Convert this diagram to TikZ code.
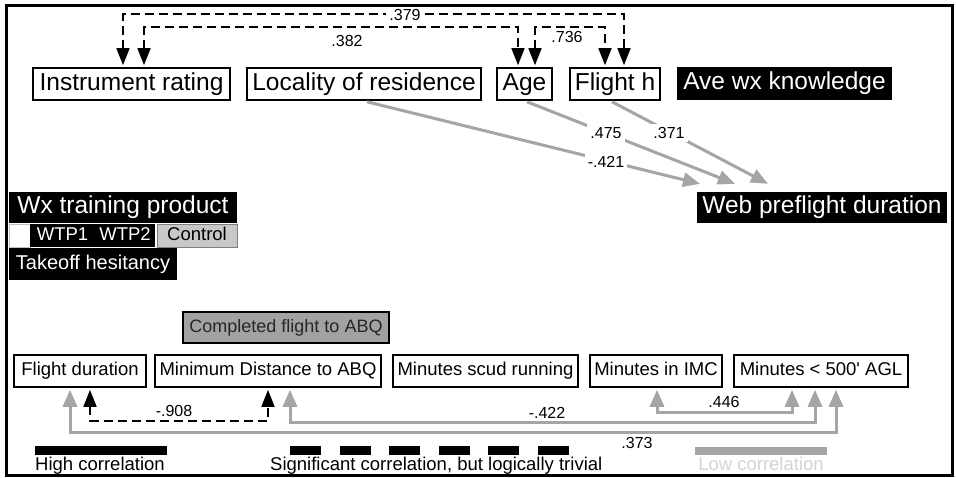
\documentclass[tikz,border=0pt]{standalone}
\usepackage{fontspec}
\setmainfont{Liberation Sans}[Ligatures=TeXOff]
\usetikzlibrary{arrows.meta}
\definecolor{arrgray}{RGB}{165,165,165}
\definecolor{ctrlgray}{RGB}{200,200,200}
\definecolor{cfgray}{RGB}{162,162,162}
\definecolor{lowtxt}{RGB}{212,212,212}
\begin{document}
\begin{tikzpicture}[x=1pt,y=-1pt,
  fbig/.style={font=\fontsize{24.5}{26}\selectfont, text height=17.8pt, text depth=5pt},
  fmid/.style={font=\fontsize{18.5}{20}\selectfont, text height=13.4pt, text depth=3.8pt},
  fnum/.style={font=\fontsize{16}{18}\selectfont},
  wbox/.style={draw=black, line width=1.6pt, fill=white, inner sep=0pt},
  bbox/.style={fill=black, text=white, inner sep=0pt},
  dl/.style={draw=black, line width=1.6pt, dash pattern=on 9pt off 5pt,
     {Triangle[length=17pt,width=13pt]}-{Triangle[length=17pt,width=13pt]}},
  gl/.style={draw=arrgray, line width=3pt,
     {Triangle[length=17pt,width=14pt]}-{Triangle[length=17pt,width=14pt]}},
  ga/.style={draw=arrgray, line width=3pt, -{Triangle[length=17pt,width=14pt]}},
  lbl/.style={fnum, inner sep=1pt},
]
\useasboundingbox (0,0) rectangle (956,478);
\fill[white] (0,0) rectangle (956,478);

% top row
\node[wbox,fbig,minimum width=197pt,minimum height=32pt] (ir) at (131.5,84) {Instrument rating};
\node[wbox,fbig,minimum width=234pt,minimum height=32pt] (lr) at (364,84) {Locality of residence};
\node[wbox,fbig,minimum width=55pt,minimum height=32pt] (ag) at (524.5,84) {Age};
\node[wbox,fbig,minimum width=90pt,minimum height=32pt] (fh) at (615,84) {Flight h};
\node[bbox,fbig,minimum width=215pt,minimum height=33pt] (aw) at (784.5,83.5) {Ave wx knowledge};

\node[bbox,fbig,minimum width=250pt,minimum height=31pt] (wp) at (822,207.5) {Web preflight duration};

% left block
\node[bbox,fbig,minimum width=228pt,minimum height=31pt] (wx) at (123,207.5) {Wx training product};
\node[draw=lightgray, line width=0.6pt, fill=white, minimum width=21pt, minimum height=23pt, inner sep=0pt] (w0) at (19.5,235.5) {};
\node[bbox,fmid,minimum width=65pt,minimum height=23pt] (w1) at (62.5,235.5) {WTP1};
\node[bbox,fmid,minimum width=60pt,minimum height=23pt] (w2) at (125,235.5) {WTP2};
\node[fill=ctrlgray, draw=gray, line width=0.6pt, fmid, minimum width=80pt, minimum height=23pt, inner sep=0pt] (wc) at (197,235.5) {Control};
\node[bbox,font=\fontsize{20}{22}\selectfont,text height=14.5pt,text depth=4.2pt,minimum width=168pt,minimum height=32pt] (th) at (93,264) {Takeoff hesitancy};

% bottom
\node[draw=black, line width=1.4pt, fill=cfgray, text=black!85, font=\fontsize{18}{20}\selectfont, text height=13pt, text depth=3.8pt, minimum width=206pt, minimum height=31pt, inner sep=0pt] (cf) at (286,327.5) {Completed flight to ABQ};
\node[wbox,fmid,minimum width=132pt,minimum height=32pt] (fd) at (80,371) {Flight duration};
\node[wbox,fmid,minimum width=226pt,minimum height=32pt] (md) at (268,371) {Minimum Distance to ABQ};
\node[wbox,fmid,minimum width=185pt,minimum height=32pt] (sr) at (485.5,371) {Minutes scud running};
\node[wbox,fmid,minimum width=132pt,minimum height=32pt] (imc) at (656,371) {Minutes in IMC};
\node[wbox,fmid,minimum width=174pt,minimum height=32pt] (agl) at (821,371) {Minutes < 500' AGL};

% top dashed correlations
\draw[dl] ([xshift=-8.5pt,yshift=2pt]ir.north) -- ++(0,-51) -| ([xshift=9pt,yshift=2pt]fh.north);
\draw[dl] ([xshift=12.5pt,yshift=2pt]ir.north) -- ++(0,-38) -| ([xshift=-6.5pt,yshift=2pt]ag.north);
\draw[dl] ([xshift=10.5pt,yshift=2pt]ag.north) -- ++(0,-38) -| ([xshift=-10pt,yshift=2pt]fh.north);
\node[lbl,fill=white,inner sep=3pt] (l379) at (405,15) {.379};
\node[lbl] (l382) at (347,41) {.382};
\node[lbl] (l736) at (567,37) {.736};

% gray arrows to web preflight
\draw[ga] ([xshift=3pt,yshift=-1pt]lr.south) -- ([xshift=-122pt,yshift=8pt]wp.north);
\draw[ga] ([xshift=2.5pt,yshift=-1pt]ag.south) -- ([xshift=-87pt,yshift=8pt]wp.north);
\draw[ga] ([xshift=-3pt,yshift=-1pt]fh.south) -- ([xshift=-54pt,yshift=8pt]wp.north);
\node[lbl,fill=white,inner sep=3pt] (l421) at (606,162) {-.421};
\node[lbl,fill=white,inner sep=3pt] (l475) at (606,133) {.475};
\node[lbl,fill=white,inner sep=3pt] (l371) at (669,133) {.371};

% bottom correlations
\draw[gl] ([xshift=-10pt,yshift=-2pt]fd.south) -- ++(0,43) -| ([xshift=15pt,yshift=-2pt]agl.south);
\draw[gl] ([xshift=22pt,yshift=-2pt]md.south) -- ++(0,33) -| ([xshift=-6pt,yshift=-2pt]agl.south);
\draw[gl] ([xshift=1pt,yshift=-2pt]imc.south) -- ++(0,23) -| ([xshift=-29pt,yshift=-2pt]agl.south);
\draw[dl] ([xshift=10pt,yshift=-2pt]fd.south) -- ++(0,31) -| ([yshift=-2pt]md.south);
\node[lbl] (l908) at (174,411) {-.908};
\node[lbl] (l422) at (547,413) {-.422};
\node[lbl] (l446) at (724,402) {.446};
\node[lbl] (l373) at (637,443) {.373};

% legend
\fill[black] (35,446) rectangle (167,455);
\foreach \s in {0,1,2,3,4,5} {\fill[black] (290+49.5*\s,446) rectangle (321+49.5*\s,455);}
\fill[arrgray] (695,447) rectangle (827,455);
\node[font=\fontsize{18.5}{20}\selectfont, anchor=base west, inner sep=0pt] (lh) at (35,470) {High correlation};
\node[font=\fontsize{18.5}{20}\selectfont, anchor=base west, inner sep=0pt] (ls) at (270,470) {Significant correlation, but logically trivial};
\node[font=\fontsize{18.5}{20}\selectfont, anchor=base, inner sep=0pt, text=lowtxt] (ll) at (761,470) {Low correlation};

% frame
\draw[line width=3pt] (6.5,5.5) rectangle (952.5,475.5);
\end{tikzpicture}
\end{document}
